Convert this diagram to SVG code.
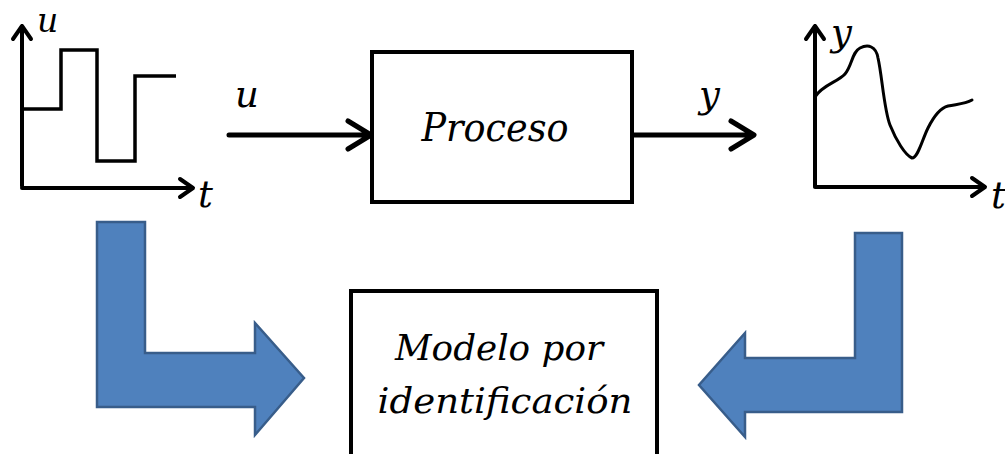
<svg xmlns="http://www.w3.org/2000/svg" width="1005" height="454" viewBox="0 0 1005 454">
<style>
.ax{fill:none;stroke:#000;stroke-width:4;stroke-linecap:round;stroke-linejoin:round}
.sig{fill:none;stroke:#000;stroke-width:3.5;stroke-linejoin:miter}
.lbl{font-family:"DejaVu Serif","Liberation Serif",serif;font-style:italic;fill:#000}
.box{fill:#fff;stroke:#000;stroke-width:4}
.big{fill:#4F81BD;stroke:#385D8A;stroke-width:2.5;stroke-linejoin:miter}
.con{fill:none;stroke:#000;stroke-width:5;stroke-linecap:round;stroke-linejoin:round}
</style>
<g id="input-graph">
<path class="ax" d="M22,186 V26 M13,39 L22,26 L31,39"/>
<path class="ax" d="M22,188 H192 M180,179 L193,188 L180,197"/>
<path class="sig" d="M22,109 H61 V50 H97 V161 H135 V76 H176"/>
<text class="lbl" x="37" y="32" font-size="33">u</text>
<text class="lbl" x="198" y="207" font-size="37">t</text>
</g>
<g id="output-graph">
<path class="ax" d="M815,186 V26 M806,39 L815,26 L824,39"/>
<path class="ax" d="M815,187 H984 M972,178 L985,187 L972,196"/>
<path fill="none" stroke="#000" stroke-width="3" stroke-linecap="round" d="M815,97 C822,85 838,82 845,74 C852,66 852,52 860,48 C868,44 876,46 878,58 C882,75 884,110 890,125 C896,140 905,155 912,158 C918,158 922,140 928,128 C933,118 940,108 948,106 C958,104 965,104 972,100"/>
<text class="lbl" x="831" y="45" font-size="37">y</text>
<text class="lbl" x="991" y="208" font-size="37">t</text>
</g>
<g id="proceso">
<rect class="box" x="372" y="52" width="260" height="150"/>
<text class="lbl" x="495" y="141" font-size="39" text-anchor="middle" textLength="147" lengthAdjust="spacingAndGlyphs">Proceso</text>
</g>
<g id="modelo">
<rect class="box" x="351" y="291" width="306" height="180"/>
<text class="lbl" x="499" y="360" font-size="36" text-anchor="middle" textLength="208" lengthAdjust="spacingAndGlyphs">Modelo por</text>
<text class="lbl" x="505" y="413" font-size="36" text-anchor="middle" textLength="255" lengthAdjust="spacingAndGlyphs">identificación</text>
</g>
<g id="connectors">
<path class="con" d="M229,135 H369 M348,121 L371,135 L348,149"/>
<text class="lbl" x="235" y="107" font-size="37">u</text>
<path class="con" d="M634,135 H752 M731,121 L754,135 L731,149"/>
<text class="lbl" x="699" y="107" font-size="37">y</text>
<path class="big" d="M97,222 H145 V353 H255 V323 L304,378 L255,435 V407 H97 Z"/>
<path class="big" d="M902,233 H855 V358 H745 V333 L699,385 L745,437 V412 H902 Z"/>
</g>
</svg>
